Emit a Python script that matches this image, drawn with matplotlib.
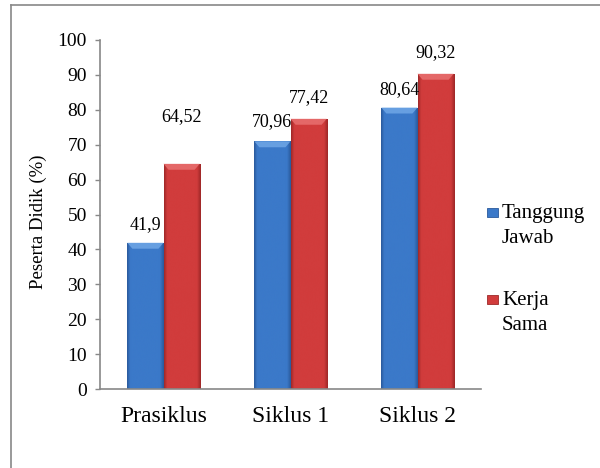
import numpy as np
import matplotlib
matplotlib.use("Agg")
import matplotlib.pyplot as plt
from matplotlib.patches import Rectangle, Polygon
from matplotlib.lines import Line2D
from matplotlib.colors import LinearSegmentedColormap

plt.rcParams['font.family'] = ['Liberation Serif', 'DejaVu Serif']

categories = ["Prasiklus", "Siklus 1", "Siklus 2"]
series_names = ["Tanggung\nJawab", "Kerja\nSama"]
tanggung_jawab = [41.9, 70.96, 80.64]
kerja_sama = [64.52, 77.42, 90.32]
value_labels = [["41,9", "70,96", "80,64"], ["64,52", "77,42", "90,32"]]
y_ticks = [0, 10, 20, 30, 40, 50, 60, 70, 80, 90, 100]

# label offsets above each bar, in points
label_offsets = [[7, 8, 7], [28, 9, 9]]

base_colors = ["#3b79c9", "#d13c3c"]
edge_dark = ["#2a5a9c", "#9e2828"]
edge_light = ["#6fa6e6", "#e87070"]

fig = plt.figure(figsize=(6.0, 4.68), dpi=100)
ax = fig.add_axes([100 / 600, 1 - 389 / 468, 381 / 600, 349 / 468])

x = np.arange(len(categories))
width = 0.285
values = [tanggung_jawab, kerja_sama]

for s, vals in enumerate(values):
    xs = x + (s - 0.5) * width
    bars = ax.bar(xs, vals, width=width, color=base_colors[s], edgecolor="none", zorder=2)
    cmap = LinearSegmentedColormap.from_list(
        "grad%d" % s, [(0.0, edge_dark[s]), (0.08, base_colors[s]), (0.5, base_colors[s]),
                       (0.9, base_colors[s]), (1.0, edge_dark[s])])
    grad = np.linspace(0, 1, 64).reshape(1, -1)
    for b, v, lab, off in zip(bars, vals, value_labels[s], label_offsets[s]):
        x0, w = b.get_x(), b.get_width()
        im = ax.imshow(grad, cmap=cmap, aspect="auto", extent=[x0, x0 + w, 0, v],
                       zorder=2.5, interpolation="bicubic")
        im.set_clip_path(b)
        # bevelled top face
        bh = 1.7
        bevel = Polygon([[x0, v], [x0 + w, v], [x0 + w * 0.86, v - bh], [x0 + w * 0.14, v - bh]],
                        closed=True, facecolor=edge_light[s], edgecolor="none", zorder=3, alpha=0.85)
        ax.add_patch(bevel)
        ax.annotate(lab, (x0 + w / 2, v), xytext=(0, off), textcoords="offset points",
                    ha="center", va="bottom", fontsize=13, zorder=4)

ax.set_xlim(-0.5, len(categories) - 0.5)
ax.set_ylim(0, 100)
ax.set_yticks(y_ticks)
ax.set_xticks(x)
ax.set_xticklabels(categories, fontsize=17)
ax.tick_params(axis="x", length=0, pad=12)
ax.tick_params(axis="y", length=3.5, width=1, color="#888888", labelsize=14, pad=6)

for side in ["top", "right"]:
    ax.spines[side].set_visible(False)
for side in ["left", "bottom"]:
    ax.spines[side].set_color("#888888")
    ax.spines[side].set_linewidth(1.2)

fig.text(38 / 600, 1 - 222 / 468, "Peserta Didik (%)", rotation=90, ha="center", va="center",
         fontsize=13.5)

# legend: square swatch beside the first line of each two-line label
legend_top = [204, 291]
for s, name in enumerate(series_names):
    yt = 1 - legend_top[s] / 468
    fig.patches.append(Rectangle((487 / 600, yt - 13 / 468), 11 / 600, 9 / 468,
                                 transform=fig.transFigure, facecolor=base_colors[s],
                                 edgecolor=edge_dark[s], linewidth=0.6))
    fig.text(502 / 600, yt, name, ha="left", va="top", fontsize=15, linespacing=1.45)

# outer chart border
fig.add_artist(Line2D([11 / 600, 11 / 600], [0, 1 - 5 / 468], transform=fig.transFigure,
                      color="#888888", linewidth=1.2))
fig.add_artist(Line2D([11 / 600, 1], [1 - 5 / 468, 1 - 5 / 468], transform=fig.transFigure,
                      color="#888888", linewidth=1.2))

fig.savefig("out.png", dpi=100)
